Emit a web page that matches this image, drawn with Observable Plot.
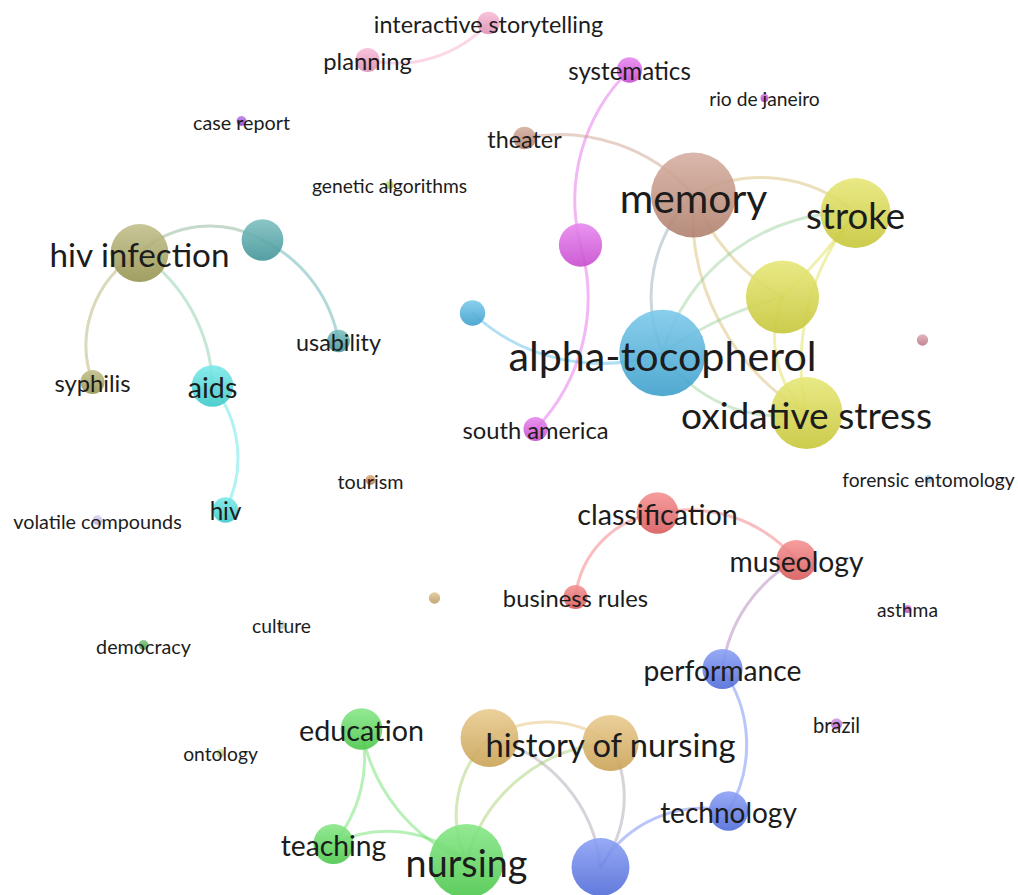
<!DOCTYPE html>
<html>
<head>
<meta charset="utf-8">
<script src="https://cdn.jsdelivr.net/npm/d3@7"></script>
<script src="https://cdn.jsdelivr.net/npm/@observablehq/plot@0.6"></script>
<style>
  html, body { margin: 0; padding: 0; background: #ffffff; }
  #chart { width: 1018px; height: 895px; overflow: hidden; }
</style>
</head>
<body>
<div id="chart"></div>
<script>
// ---- Data (VOSviewer-style map coordinates) ----
const labels = [
  "interactive storytelling", "planning", "systematics", "rio de janeiro", "case report",
  "theater", "genetic algorithms", "memory", "stroke", "hiv infection",
  "", "", "", "", "usability",
  "", "alpha-tocopherol", "syphilis", "aids", "oxidative stress",
  "south america", "tourism", "forensic entomology", "hiv", "volatile compounds",
  "classification", "museology", "business rules", "", "asthma",
  "culture", "democracy", "performance", "brazil", "education",
  "", "history of nursing", "ontology", "technology", "teaching",
  "nursing", ""
];
const ids = [
  "interactive storytelling", "planning", "systematics", "rio de janeiro", "case report",
  "theater", "genetic algorithms", "memory", "stroke", "hiv infection",
  "n-teal", "n-magenta", "n-yellow", "n-lightblue", "usability",
  "n-rose", "alpha-tocopherol", "syphilis", "aids", "oxidative stress",
  "south america", "tourism", "forensic entomology", "hiv", "volatile compounds",
  "classification", "museology", "business rules", "n-tan", "asthma",
  "culture", "democracy", "performance", "brazil", "education",
  "n-gold", "history of nursing", "ontology", "technology", "teaching",
  "nursing", "n-blue"
];
const xs = [
  -0.21, -1.42, 1.20, 2.55, -2.68,
   0.15, -1.20, 1.84, 3.46, -3.70,
  -2.47, 0.71, 2.73, -0.37, -1.71,
   4.13, 1.53, -4.17, -2.97, 2.97,
   0.26, -1.39, 4.19, -2.84, -4.12,
   1.48, 2.87, 0.66, -0.75, 3.98,
  -2.28, -3.66, 2.13, 3.27, -1.48,
  -0.20, 1.01, -2.89, 2.19, -1.76,
  -0.43, 0.91
];
const ys = [
   4.25, 3.88, 3.78, 3.50, 3.27,
   3.10, 2.63, 2.53, 2.35, 1.95,
   2.08, 2.03, 1.51, 1.35, 1.07,
   1.08, 0.95, 0.66, 0.62, 0.35,
   0.19, -0.32, -0.31, -0.62, -0.72,
  -0.65, -1.12, -1.49, -1.50, -1.61,
  -1.77, -1.97, -2.21, -2.76, -2.81,
  -2.90, -2.95, -3.05, -3.63, -3.96,
  -4.13, -4.19
];
const weights = [
   8, 9, 10, 1, 1.5,
   8, 1, 112, 76, 52,
  27, 29, 83, 10, 8,
   2, 116, 9, 27, 80,
   9, 1.5, 1, 10, 1.5,
  27, 25, 9, 2, 1,
   1, 1.5, 25, 2, 27,
  52, 49, 1, 24, 25,
  85, 52
];
const clusters = [
   8, 8, 4, 12, 13,
   7, 14, 7, 3, 10,
  11, 4, 3, 9, 11,
  15, 9, 10, 5, 3,
   4, 16, 17, 5, 18,
   0, 0, 0, 19, 20,
  21, 22, 2, 23, 1,
   6, 6, 24, 2, 1,
   1, 2
];
const clusterColors = [
  "#f06466", "#55dd55", "#5a78f0", "#dcdc40", "#dd55e6",
  "#45e0e0", "#e0b460", "#c48e7a", "#f5a0c8", "#45b2e2",
  "#a8a55a", "#48a5a8", "#c445e2", "#a050e0", "#c0e050",
  "#d08898", "#d08850", "#90cdf0", "#d0c4f0", "#d4b070",
  "#e050c8", "#d4d4d4", "#50b050", "#c070e0", "#d0e080"
];
// links: source, target, bend (degrees)
const linkSources = [
  "planning", "systematics", "n-magenta", "theater", "memory",
  "memory", "memory", "memory", "alpha-tocopherol", "stroke",
  "stroke", "n-yellow", "n-yellow", "alpha-tocopherol", "n-lightblue",
  "hiv infection", "n-teal", "hiv infection", "hiv infection", "aids",
  "classification", "classification", "museology", "performance", "technology",
  "n-blue", "n-blue", "n-gold", "nursing", "nursing",
  "nursing", "nursing", "education"
];
const linkTargets = [
  "interactive storytelling", "n-magenta", "south america", "memory", "stroke",
  "alpha-tocopherol", "n-yellow", "oxidative stress", "stroke", "n-yellow",
  "oxidative stress", "oxidative stress", "alpha-tocopherol", "oxidative stress", "alpha-tocopherol",
  "n-teal", "usability", "syphilis", "aids", "hiv",
  "business rules", "museology", "performance", "technology", "n-blue",
  "n-gold", "history of nursing", "history of nursing", "n-gold", "history of nursing",
  "education", "teaching", "teaching"
];
const linkBends = [
  -30, -30, 30, 30, 35,
  -34, -20, -32, 38, 5,
  -26, -34, -10, -34, -31,
   36, 27, -40, 27, 33,
  -38, 31, -27, 33, -36,
  -35, -33, 34, 36, 36,
   29, -34, 26
];

// ---- Build tables ----
const nodes = ids.map((id, i) => ({
  id, label: labels[i], x: xs[i], y: ys[i], weight: weights[i],
  color: clusterColors[clusters[i]]
}));
const byId = new Map(nodes.map(d => [d.id, d]));
const links = linkSources.map((s, i) => {
  const a = byId.get(s), b = byId.get(linkTargets[i]);
  return {
    x1: a.x, y1: a.y, x2: b.x, y2: b.y, bend: linkBends[i],
    color: d3.interpolateRgb(a.color, b.color)(0.5)
  };
});

const fontSizeOf = d => 17 + 2.25 * Math.sqrt(d.weight);

const chart = Plot.plot({
  width: 1018,
  height: 895,
  margin: 0,
  x: {domain: [-5.09, 5.09], axis: null},
  y: {domain: [-4.475, 4.475], axis: null},
  r: {type: "sqrt", domain: [0, 120], range: [0, 44]},
  color: {type: "identity"},
  style: {background: "#ffffff", fontFamily: "Lato, 'Open Sans', sans-serif"},
  marks: [
    ...links.map(l => Plot.arrow([l], {
      x1: "x1", y1: "y1", x2: "x2", y2: "y2",
      bend: l.bend, headLength: 0,
      stroke: "color", strokeWidth: 3, strokeOpacity: 0.42
    })),
    Plot.dot(nodes, {
      x: "x", y: "y", r: "weight", fill: "color",
      fillOpacity: 0.9, stroke: "none", sort: null
    }),
    Plot.text(nodes.filter(d => d.label !== ""), {
      x: "x", y: "y", text: "label",
      fontSize: fontSizeOf, fill: "#1c1c1c",
      textAnchor: "middle", lineAnchor: "middle"
    })
  ]
});

// Vertical gradient fills for the nodes (lighter top, darker bottom)
const svg = d3.select(chart);
const defs = svg.insert("defs", ":first-child");
const gradIds = new Map();
svg.selectAll("circle").each(function () {
  const c = this.getAttribute("fill");
  if (!c || c.startsWith("url")) return;
  if (!gradIds.has(c)) {
    const gid = "grad" + gradIds.size;
    gradIds.set(c, gid);
    const g = defs.append("linearGradient").attr("id", gid)
      .attr("x1", 0).attr("y1", 0).attr("x2", 0).attr("y2", 1);
    g.append("stop").attr("offset", "0%").attr("stop-color", d3.interpolateRgb(c, "#ffffff")(0.3));
    g.append("stop").attr("offset", "100%").attr("stop-color", d3.color(c).darker(0.3).formatHex());
  }
  this.setAttribute("fill", `url(#${gradIds.get(c)})`);
});
// Labels sit slightly below node centre, as in the reference
svg.selectAll("text").attr("dy", "0.11em");

document.getElementById("chart").appendChild(chart);
</script>
</body>
</html>
